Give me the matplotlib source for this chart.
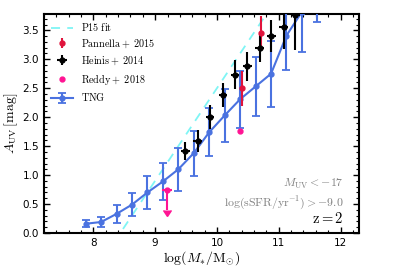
import numpy as np
import matplotlib
matplotlib.use('Agg')
import matplotlib.pyplot as plt
from matplotlib.ticker import MultipleLocator

plt.rcParams['mathtext.fontset'] = 'cm'

# TNG median relation
tng_x = [7.875, 8.125, 8.375, 8.625, 8.875, 9.125, 9.375, 9.625, 9.875,
         10.125, 10.375, 10.625, 10.875, 11.125, 11.375, 11.625]
tng_y = [0.16, 0.19, 0.33, 0.49, 0.70, 0.89, 1.10, 1.38, 1.74,
         2.03, 2.31, 2.53, 2.75, 3.41, 3.82, 4.25]
tng_err = [0.06, 0.09, 0.16, 0.20, 0.29, 0.32, 0.37, 0.39, 0.41,
           0.46, 0.49, 0.51, 0.57, 0.60, 0.70, 0.60]

# Heinis+2014
hei_x = [9.49, 9.69, 9.89, 10.10, 10.29, 10.49, 10.69, 10.88, 11.08, 11.27]
hei_y = [1.42, 1.59, 2.00, 2.38, 2.73, 2.88, 3.19, 3.40, 3.56, 3.76]
hei_err = [0.16, 0.19, 0.21, 0.21, 0.25, 0.25, 0.24, 0.27, 0.39, 0.60]
hei_xerr = [0.07, 0.07, 0.07, 0.07, 0.07, 0.07, 0.07, 0.07, 0.07, 0.07]

# Pannella+2015
pan_x = [10.40, 10.72]
pan_y = [2.50, 3.46]
pan_err = [0.30, 0.29]

# Reddy+2018
red_x = [10.37]
red_y = [1.76]
red_lim_x = [9.19]
red_lim_y = [0.74]
red_lim_len = [0.34]

# P15 fit end points
p15_x = [8.48, 11.0]
p15_y = [0.07, 4.10]

fig = plt.figure(figsize=(3.99, 2.66), dpi=100)
ax = fig.add_axes([0.110, 0.124, 0.790, 0.823])

h_p15, = ax.plot(p15_x, p15_y, ls=(0, (5, 4)), color='#7ff5f5', lw=1.3, zorder=1)
h_pan = ax.errorbar(pan_x, pan_y, yerr=pan_err, fmt='o', color='#e0143c', ms=3.5, lw=1.5,
                    capsize=0, zorder=4)
h_hei = ax.errorbar(hei_x, hei_y, yerr=hei_err, xerr=hei_xerr, fmt='o', color='k', ms=3.5,
                    lw=1.5, capsize=0, zorder=4)
h_red, = ax.plot(red_x, red_y, 'o', color='#ff1493', ms=3.5, zorder=4)
ax.errorbar(red_lim_x, red_lim_y, yerr=red_lim_len, xerr=0.08, uplims=True, fmt='o',
            color='#ff1493', ms=3.5, lw=1.5, capsize=0, zorder=4)
h_tng = ax.errorbar(tng_x, tng_y, yerr=tng_err, fmt='-o', color='#4a72e0', ms=3.5, lw=1.5,
                    capsize=3, capthick=1.3, zorder=3)

ax.set_xlim(7.2, 12.3)
ax.set_ylim(0, 3.78)
ax.xaxis.set_major_locator(MultipleLocator(1))
ax.xaxis.set_minor_locator(MultipleLocator(0.2))
ax.yaxis.set_major_locator(MultipleLocator(0.5))
ax.yaxis.set_minor_locator(MultipleLocator(0.1))
ax.tick_params(which='both', direction='in', top=True, right=True, labelsize=7.5)
ax.tick_params(which='major', length=4, width=1)
ax.tick_params(which='minor', length=2, width=0.8)
for s in ax.spines.values():
    s.set_linewidth(1.5)

ax.set_xlabel(r'$\log(M_{*}/{\rm M_{\odot}})$', fontsize=10, labelpad=1)
ax.set_ylabel(r'$A_{\rm UV}\,[\rm mag]$', fontsize=10, labelpad=2)

ax.text(0.952, 0.21, r'$M_{\rm UV}<-17$', transform=ax.transAxes, ha='right',
        color='gray', fontsize=8.5)
ax.text(0.952, 0.12, r'$\log({\rm sSFR/yr^{-1}})>-9.0$', transform=ax.transAxes, ha='right',
        color='gray', fontsize=8.5)
ax.text(0.952, 0.045, r'$\rm z=2$', transform=ax.transAxes, ha='right',
        color='k', fontsize=10.5)

labels = [r'$\rm P15\ fit$', r'$\rm Pannella+\ 2015$', r'$\rm Heinis+\ 2014$',
          r'$\rm Reddy+\ 2018$', r'$\rm TNG$']
ax.legend([h_p15, h_pan, h_hei, h_red, h_tng], labels, loc='upper left', frameon=False,
          fontsize=7.3, handlelength=2.2, borderaxespad=0.3, labelspacing=0.45)

fig.savefig('out.png', dpi=100)
